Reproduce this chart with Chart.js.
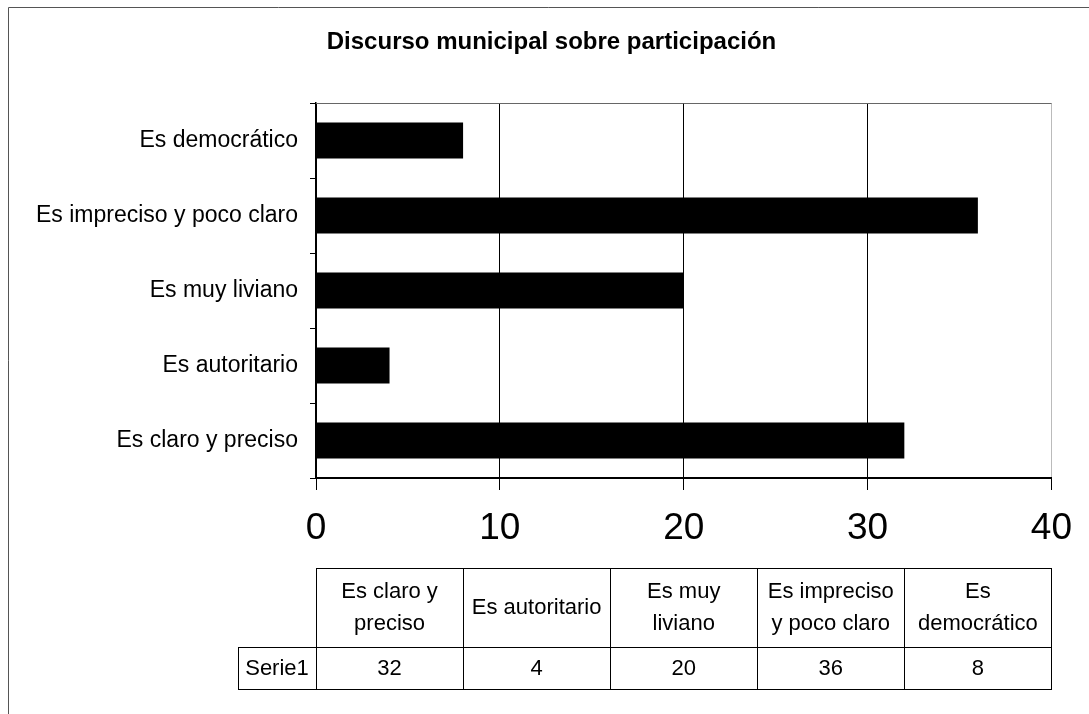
<!DOCTYPE html>
<html>
<head>
<meta charset="utf-8">
<title>Discurso municipal sobre participación</title>
<script src="https://cdn.jsdelivr.net/npm/chart.js@4.4.1/dist/chart.umd.min.js"></script>
<style>
  html, body { margin: 0; padding: 0; background: #fff; }
  canvas { display: block; }
</style>
</head>
<body>
<canvas id="grafico" width="1089" height="714"></canvas>
<script>
// -----------------------------
//  DATOS
// -----------------------------
const titulo = "Discurso municipal sobre participación";
const categorias = ["Es claro y preciso", "Es autoritario", "Es muy liviano", "Es impreciso y poco claro", "Es democrático"];
const serie1 = [32, 4, 20, 36, 8];
const nombreSerie = "Serie1";
const ticksX = [0, 10, 20, 30, 40];
// cabeceras de la tabla de datos, con los mismos saltos de línea que el original
const cabecerasTabla = [["Es claro y", "preciso"], ["Es autoritario"], ["Es muy", "liviano"], ["Es impreciso", "y poco claro"], ["Es", "democrático"]];

const FUENTE = "'Liberation Sans', Arial, sans-serif";

// -----------------------------
//  MARCO, TÍTULO Y TABLA
// -----------------------------
const extras = {
    id: "extras",
    beforeDraw(chart) {
        const ctx = chart.ctx;
        ctx.save();
        ctx.fillStyle = "#fff";
        ctx.fillRect(0, 0, chart.width, chart.height);
        // marco exterior (solo se ven el borde superior e izquierdo)
        ctx.strokeStyle = "#555";
        ctx.lineWidth = 1;
        ctx.beginPath();
        ctx.moveTo(8.5, chart.height);
        ctx.lineTo(8.5, 7.5);
        ctx.lineTo(chart.width, 7.5);
        ctx.stroke();
        ctx.restore();
    },
    afterDraw(chart) {
        const ctx = chart.ctx;
        const a = chart.chartArea;
        ctx.save();

        // borde superior del área de trazado
        ctx.strokeStyle = "#666";
        ctx.lineWidth = 1;
        ctx.beginPath();
        ctx.moveTo(a.left, Math.round(a.top) + 0.5);
        ctx.lineTo(a.right, Math.round(a.top) + 0.5);
        ctx.stroke();

        // título
        ctx.fillStyle = "#000";
        ctx.font = "bold 24px " + FUENTE;
        ctx.textAlign = "center";
        ctx.textBaseline = "middle";
        ctx.fillText(titulo, chart.width / 2 + 7, 42);

        // tabla de datos
        const anchoCol = a.width / categorias.length;
        const arriba = Math.round(a.bottom) + 90;
        const altoCab = 79;
        const altoVal = 42;
        const anchoSerie = 78;
        const r = v => Math.round(v) + 0.5;

        ctx.strokeStyle = "#000";
        ctx.lineWidth = 1;
        ctx.strokeRect(r(a.left - anchoSerie), r(arriba + altoCab), anchoSerie, altoVal);
        for (let i = 0; i < categorias.length; i++) {
            const x0 = a.left + i * anchoCol;
            ctx.strokeRect(r(x0), r(arriba), Math.round(anchoCol), altoCab);
            ctx.strokeRect(r(x0), r(arriba + altoCab), Math.round(anchoCol), altoVal);
        }

        ctx.font = "22px " + FUENTE;
        ctx.fillText(nombreSerie, a.left - anchoSerie / 2, arriba + altoCab + altoVal / 2 + 1);
        cabecerasTabla.forEach((lineas, i) => {
            const cx = a.left + (i + 0.5) * anchoCol;
            const cy = arriba + altoCab / 2;
            const paso = 32;
            lineas.forEach((txt, j) => {
                ctx.fillText(txt, cx, cy + (j - (lineas.length - 1) / 2) * paso);
            });
            ctx.fillText(String(serie1[i]), cx, arriba + altoCab + altoVal / 2 + 1);
        });

        ctx.restore();
    }
};

// -----------------------------
//  GRÁFICO
// -----------------------------
const ctx = document.getElementById("grafico").getContext("2d");

const chart = new Chart(ctx, {
    type: "bar",
    data: {
        labels: categorias,
        datasets: [{
            label: nombreSerie,
            data: serie1,
            backgroundColor: "#000",
            borderWidth: 0,
            categoryPercentage: 1,
            barPercentage: 0.48
        }]
    },
    options: {
        indexAxis: "y",
        responsive: false,
        animation: false,
        layout: { padding: { top: 103, right: 36, left: 0, bottom: 166 } },
        plugins: {
            legend: { display: false },
            tooltip: { enabled: false }
        },
        scales: {
            x: {
                min: 0,
                max: 40,
                afterBuildTicks: s => { s.ticks = ticksX.map(v => ({ value: v })); },
                afterFit: s => { s.height = 70; },
                grid: {
                    color: c => c.tick && c.tick.value === 40 ? "#bbb" : "#000",
                    tickColor: "#000",
                    lineWidth: 1,
                    tickLength: 12
                },
                border: { color: "#000", width: 2 },
                ticks: {
                    color: "#000",
                    padding: 17,
                    font: { family: FUENTE, size: 37 }
                }
            },
            y: {
                reverse: true,
                afterFit: s => { s.width = 316; },
                grid: {
                    offset: true,
                    drawOnChartArea: false,
                    color: "#000",
                    tickLength: 6
                },
                border: { color: "#000", width: 1.5 },
                ticks: {
                    color: "#000",
                    padding: 12,
                    font: { family: FUENTE, size: 23 }
                }
            }
        }
    },
    plugins: [extras]
});
</script>
</body>
</html>
